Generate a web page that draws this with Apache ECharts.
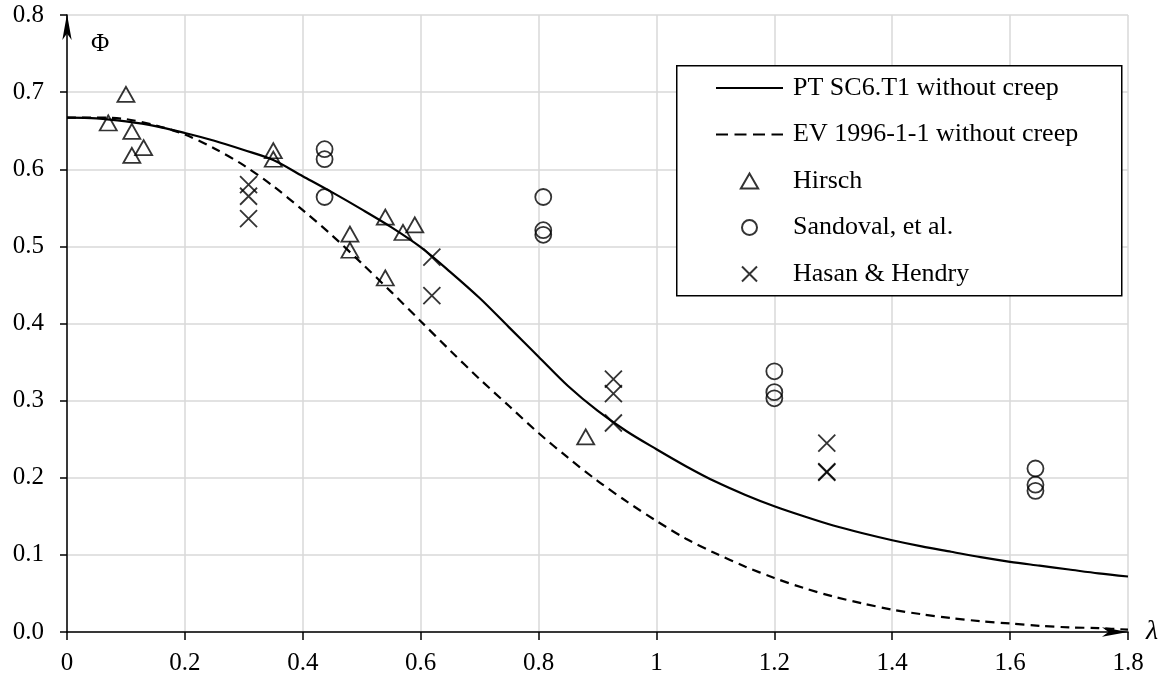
<!DOCTYPE html>
<html>
<head>
<meta charset="utf-8">
<script src="https://cdn.jsdelivr.net/npm/echarts@6/dist/echarts.min.js"></script>
<style>html,body{margin:0;padding:0;background:#fff;}#c{width:1172px;height:678px;}</style>
</head>
<body>
<div id="c"></div>
<script>
// λ grid for the two design curves
const lambdaCurve = [0, 0.05, 0.1, 0.15, 0.2, 0.25, 0.3, 0.35, 0.4, 0.45, 0.5, 0.55, 0.6, 0.65, 0.7, 0.75, 0.8, 0.85, 0.9, 0.95, 1.0, 1.05, 1.1, 1.15, 1.2, 1.25, 1.3, 1.35, 1.4, 1.45, 1.5, 1.55, 1.6, 1.65, 1.7, 1.75, 1.8];
const phiPT = [0.667, 0.666, 0.662, 0.656, 0.647, 0.637, 0.625, 0.612, 0.591, 0.570, 0.548, 0.525, 0.499, 0.467, 0.433, 0.395, 0.357, 0.319, 0.287, 0.260, 0.237, 0.215, 0.195, 0.178, 0.163, 0.150, 0.138, 0.128, 0.119, 0.111, 0.104, 0.097, 0.091, 0.086, 0.081, 0.076, 0.072];
const phiEV = [0.667, 0.667, 0.665, 0.657, 0.645, 0.627, 0.605, 0.578, 0.547, 0.514, 0.478, 0.441, 0.403, 0.365, 0.328, 0.293, 0.258, 0.226, 0.196, 0.169, 0.144, 0.121, 0.102, 0.085, 0.070, 0.057, 0.046, 0.037, 0.029, 0.023, 0.018, 0.014, 0.011, 0.008, 0.006, 0.005, 0.003];

const hirschX = [0.07, 0.10, 0.11, 0.11, 0.13, 0.35, 0.35, 0.48, 0.48, 0.54, 0.54, 0.57, 0.59, 0.88];
const hirschY = [0.660, 0.697, 0.649, 0.618, 0.628, 0.624, 0.613, 0.516, 0.495, 0.538, 0.459, 0.518, 0.528, 0.253];

const sandovalX = [0.437, 0.437, 0.437, 0.808, 0.808, 0.808, 1.20, 1.20, 1.20, 1.643, 1.643, 1.643];
const sandovalY = [0.626, 0.613, 0.564, 0.564, 0.521, 0.515, 0.338, 0.311, 0.303, 0.212, 0.191, 0.183];

const hasanX = [0.308, 0.308, 0.308, 0.619, 0.619, 0.927, 0.927, 0.927, 1.289, 1.289, 1.289];
const hasanY = [0.580, 0.565, 0.536, 0.486, 0.436, 0.328, 0.309, 0.271, 0.245, 0.207, 0.208];

const xTicks = {min: 0, max: 1.8, interval: 0.2};
const yTicks = {min: 0, max: 0.8, interval: 0.1};

const names = ['PT SC6.T1 without creep', 'EV 1996-1-1 without creep', 'Hirsch', 'Sandoval, et al.', 'Hasan & Hendry'];

const zip = (a, b) => a.map((v, i) => [v, b[i]]);
const FONT = '"Liberation Serif", "Times New Roman", serif';
const CROSS = 'path://M0,0L10,10M10,0L0,10';
const TRI = 'path://M5,0L10,8.66L0,8.66Z';
const hidden = {color: 'rgba(0,0,0,0)', borderWidth: 0};

const chart = echarts.init(document.getElementById('c'), null, {renderer: 'canvas'});
chart.setOption({
  animation: false,
  backgroundColor: '#fff',
  grid: {left: 67, right: 44, top: 15, bottom: 46, containLabel: false},
  xAxis: {
    type: 'value', min: xTicks.min, max: xTicks.max, interval: xTicks.interval,
    name: 'λ', nameLocation: 'end', nameGap: 18,
    nameTextStyle: {fontFamily: FONT, fontSize: 28, fontStyle: 'italic', color: '#000', verticalAlign: 'middle', padding: [6, 0, 0, 0]},
    axisLine: {lineStyle: {color: '#000', width: 1.5}, symbol: ['none', 'arrow'], symbolSize: [7, 26], symbolOffset: [0, 0]},
    axisTick: {show: true, inside: false, length: 8, lineStyle: {color: '#000', width: 1.5}},
    axisLabel: {fontFamily: FONT, fontSize: 25, color: '#000', margin: 19},
    splitLine: {show: true, lineStyle: {color: '#d9d9d9', width: 1.5}}
  },
  yAxis: {
    type: 'value', min: yTicks.min, max: yTicks.max, interval: yTicks.interval,
    axisLine: {show: true, lineStyle: {color: '#000', width: 1.5}, symbol: ['none', 'arrow'], symbolSize: [7, 26], symbolOffset: [0, 1]},
    axisTick: {show: true, inside: false, length: 7, lineStyle: {color: '#000', width: 1.5}},
    axisLabel: {fontFamily: FONT, fontSize: 25, color: '#000', margin: 23, formatter: v => v.toFixed(1)},
    splitLine: {show: true, lineStyle: {color: '#d9d9d9', width: 1.5}}
  },
  legend: {
    orient: 'vertical', left: 715, top: 75, padding: 0, itemGap: 20.5,
    itemWidth: 67, itemHeight: 15, z: 6,
    textStyle: {fontFamily: FONT, fontSize: 26, color: '#000', lineHeight: 26, padding: [0, 0, 0, 5]},
    data: [
      {name: names[0], itemStyle: hidden},
      {name: names[1], itemStyle: hidden, lineStyle: {type: [12, 6.5]}},
      {name: names[2], icon: TRI},
      {name: names[3]},
      {name: names[4]}
    ]
  },
  graphic: [
    {type: 'rect', left: 676, top: 65, z: 5, shape: {width: 445, height: 230}, style: {fill: '#fff', stroke: '#000', lineWidth: 1.5}},
    {type: 'text', left: 91, top: 32, z: 5, style: {text: 'Φ', font: '25px ' + FONT, fill: '#000'}}
  ],
  series: [
    {name: names[0], type: 'line', data: zip(lambdaCurve, phiPT), symbol: 'none', smooth: 0.3, z: 3,
     lineStyle: {color: '#000', width: 2.2, type: 'solid'}, itemStyle: {color: '#000'}},
    {name: names[1], type: 'line', data: zip(lambdaCurve, phiEV), symbol: 'none', smooth: 0.3, z: 3,
     lineStyle: {color: '#000', width: 2.2, type: [9, 6]}, itemStyle: {color: '#000'}},
    {name: names[2], type: 'scatter', data: zip(hirschX, hirschY), symbol: 'triangle', symbolSize: [17, 15], z: 4,
     itemStyle: {color: 'rgba(0,0,0,0)', borderColor: '#000', borderWidth: 1.8}},
    {name: names[3], type: 'scatter', data: zip(sandovalX, sandovalY), symbol: 'circle', symbolSize: 16, z: 4,
     itemStyle: {color: 'rgba(0,0,0,0)', borderColor: '#000', borderWidth: 1.8}},
    {name: names[4], type: 'scatter', data: zip(hasanX, hasanY), symbol: CROSS, symbolSize: 17, z: 4,
     itemStyle: {color: 'rgba(0,0,0,0)', borderColor: '#000', borderWidth: 1.8}}
  ]
});
</script>
</body>
</html>
